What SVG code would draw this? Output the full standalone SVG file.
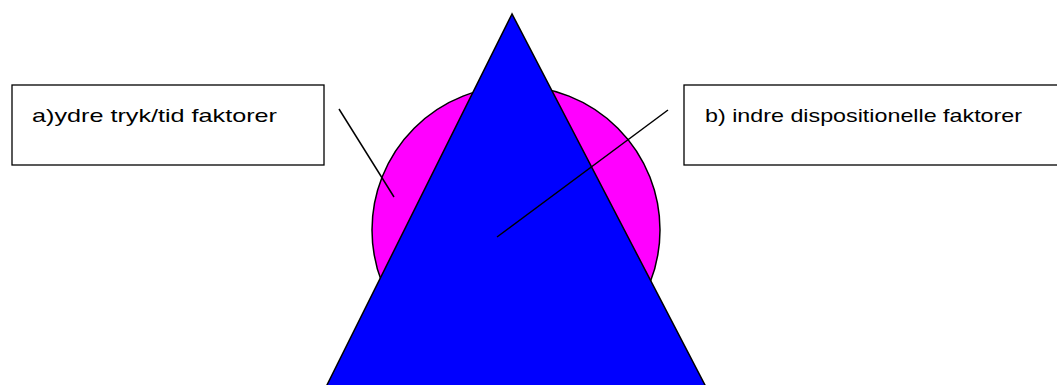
<svg xmlns="http://www.w3.org/2000/svg" width="1057" height="385" viewBox="0 0 1057 385">
<style>
.box{fill:#fff;stroke:#000;stroke-width:1.3}
.lbl{font-family:"Comic Sans MS","Liberation Sans",sans-serif;font-size:19px;fill:#000}
.sh{stroke:#000;stroke-width:1.5}
.con{stroke:#000;stroke-width:1.5;fill:none}
</style>
<rect width="1057" height="385" fill="#fff"/>
<g id="circle"><circle class="sh" cx="516" cy="230" r="144" fill="#ff00ff"/></g>
<g id="triangle"><polygon class="sh" points="512,14 326,387 706,387" fill="#0000ff" stroke-linejoin="miter"/></g>
<g id="box-a"><rect class="box" x="12" y="85" width="312" height="80"/><text class="lbl" x="32" y="122" textLength="245" lengthAdjust="spacingAndGlyphs">a)ydre tryk/tid faktorer</text></g>
<g id="box-b"><rect class="box" x="684" y="85" width="380" height="80"/><text class="lbl" x="705" y="122" textLength="317" lengthAdjust="spacingAndGlyphs">b) indre dispositionelle faktorer</text></g>
<g id="connectors"><line class="con" x1="339" y1="109" x2="394" y2="197"/><line class="con" x1="668" y1="110" x2="497" y2="237"/></g>
</svg>
